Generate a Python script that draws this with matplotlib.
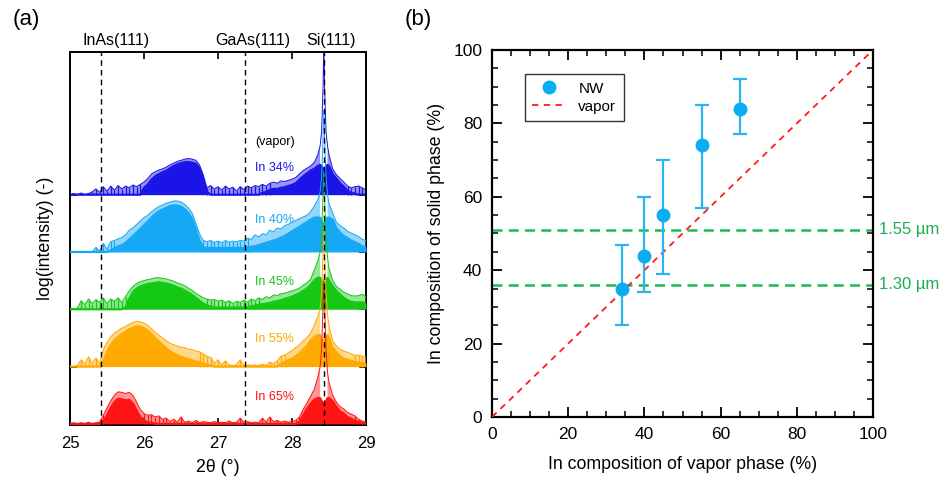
import numpy as np
import matplotlib
matplotlib.use("Agg")
import matplotlib.pyplot as plt
from matplotlib.lines import Line2D
import matplotlib.transforms as mtransforms

plt.rcParams['font.family'] = ['Liberation Sans', 'DejaVu Sans']

# ---------------- Panel (a) data: XRD spectra (log intensity, offset per sample) ----------
two_theta = np.concatenate([
    np.round(np.arange(25.00, 28.351, 0.05), 2),
    [28.38, 28.40, 28.42, 28.43, 28.44, 28.46, 28.48],
    np.round(np.arange(28.50, 29.001, 0.05), 2),
])

samples = ["In 34%", "In 40%", "In 45%", "In 55%", "In 65%"]
colors = ["#1a14e6", "#14a8f5", "#14c814", "#ffaa00", "#ff1414"]
offsets = [4, 3, 2, 1, 0]

# upper (spike) envelope and solid body level
hi_34 = [0, 0.02, 0, 0.03, 0, 0.02, 0.05, 0.1, 0.04, 0.14, 0.06, 0.15, 0.08, 0.16, 0.1, 0.15, 0.12, 0.17, 0.14, 0.18,
         0.22, 0.28, 0.36, 0.4, 0.43, 0.45, 0.48, 0.52, 0.55, 0.58, 0.6, 0.62, 0.63, 0.62, 0.6, 0.52, 0.35, 0.12, 0.16, 0.1,
         0.14, 0.08, 0.15, 0.1, 0.13, 0.06, 0.14, 0.09, 0.15, 0.12, 0.16, 0.14, 0.18, 0.15, 0.2, 0.22, 0.2, 0.24, 0.23, 0.25,
         0.27, 0.3, 0.36, 0.42, 0.46, 0.5, 0.56, 0.7,
         0.85, 1.1, 1.9, 2.7, 1.9, 1.1, 0.85,
         0.7, 0.45, 0.35, 0.28, 0.22, 0.15, 0.12, 0.14, 0.15, 0.12, 0.08]
lo_34 = [0] * 20 + \
        [0.12, 0.18, 0.26, 0.32, 0.36, 0.39, 0.42, 0.46, 0.5, 0.53, 0.55, 0.57, 0.57, 0.56, 0.54, 0.46, 0.28, 0.05, 0, 0,
         0, 0, 0, 0, 0, 0, 0, 0, 0, 0, 0, 0, 0.03, 0.05, 0.08, 0.1, 0.1, 0.12, 0.13, 0.15,
         0.17, 0.2, 0.26, 0.32, 0.37, 0.42, 0.45, 0.5,
         0.52, 0.5, 0.45, 0.45, 0.45, 0.5, 0.52,
         0.5, 0.36, 0.28, 0.2, 0.14, 0.07, 0.03, 0.02, 0, 0, 0]

hi_40 = [0, 0, 0, 0, 0, 0, 0, 0.08, 0.02, 0.15, 0.05, 0.18, 0.2, 0.23, 0.25, 0.3, 0.38, 0.42, 0.48, 0.54,
         0.6, 0.64, 0.7, 0.75, 0.79, 0.82, 0.85, 0.87, 0.89, 0.89, 0.87, 0.83, 0.77, 0.68, 0.5, 0.32, 0.2, 0.18, 0.2, 0.17,
         0.19, 0.16, 0.2, 0.17, 0.19, 0.18, 0.2, 0.19, 0.24, 0.22, 0.3, 0.26, 0.32, 0.3, 0.38, 0.35, 0.42, 0.4, 0.46, 0.48,
         0.52, 0.55, 0.58, 0.61, 0.64, 0.7, 0.8, 0.92,
         1.05, 1.3, 2.0, 2.47, 2.0, 1.3, 1.0,
         0.85, 0.68, 0.52, 0.46, 0.42, 0.36, 0.33, 0.3, 0.27, 0.22, 0.2]
lo_40 = [0, 0, 0, 0, 0, 0, 0, 0, 0, 0, 0, 0.03, 0.06, 0.1, 0.12, 0.16, 0.22, 0.28, 0.34, 0.4,
         0.47, 0.53, 0.6, 0.66, 0.71, 0.74, 0.77, 0.8, 0.81, 0.81, 0.79, 0.75, 0.68, 0.58, 0.4, 0.2, 0.08, 0.07, 0.07, 0.07,
         0.07, 0.07, 0.07, 0.07, 0.07, 0.07, 0.07, 0.07, 0.08, 0.09, 0.1, 0.12, 0.14, 0.16, 0.18, 0.2, 0.22, 0.25, 0.28, 0.32,
         0.36, 0.4, 0.44, 0.48, 0.52, 0.56, 0.6, 0.6,
         0.6, 0.55, 0.5, 0.5, 0.5, 0.55, 0.6,
         0.6, 0.56, 0.42, 0.34, 0.28, 0.24, 0.2, 0.17, 0.14, 0.1, 0.08]

hi_45 = [0, 0, 0.02, 0.15, 0.08, 0.18, 0.1, 0.17, 0.12, 0.2, 0.1, 0.18, 0.14, 0.2, 0.12, 0.22, 0.32, 0.4, 0.45, 0.48,
         0.5, 0.52, 0.53, 0.55, 0.55, 0.54, 0.53, 0.51, 0.49, 0.46, 0.44, 0.41, 0.37, 0.33, 0.28, 0.24, 0.2, 0.18, 0.16, 0.17,
         0.14, 0.16, 0.12, 0.15, 0.1, 0.14, 0.12, 0.16, 0.12, 0.18, 0.15, 0.2, 0.17, 0.22, 0.2, 0.25, 0.24, 0.27, 0.28, 0.3,
         0.32, 0.34, 0.37, 0.42, 0.46, 0.52, 0.68, 0.85,
         1.0, 1.3, 2.0, 2.42, 2.0, 1.25, 0.9,
         0.72, 0.5, 0.4, 0.35, 0.3, 0.27, 0.24, 0.23, 0.24, 0.26, 0.22]
lo_45 = [0, 0, 0, 0, 0, 0, 0, 0, 0, 0, 0, 0, 0, 0, 0, 0.03, 0.18, 0.3, 0.36, 0.4,
         0.42, 0.44, 0.45, 0.46, 0.47, 0.46, 0.45, 0.43, 0.41, 0.38, 0.36, 0.33, 0.29, 0.25, 0.2, 0.15, 0.1, 0.07, 0.05, 0.03,
         0.03, 0.03, 0.03, 0.03, 0.03, 0.03, 0.03, 0.03, 0.03, 0.05, 0.06, 0.08, 0.09, 0.1, 0.11, 0.13, 0.14, 0.16, 0.18, 0.2,
         0.22, 0.25, 0.28, 0.32, 0.36, 0.42, 0.5, 0.55,
         0.55, 0.5, 0.45, 0.45, 0.45, 0.5, 0.55,
         0.5, 0.4, 0.32, 0.26, 0.2, 0.16, 0.13, 0.12, 0.12, 0.12, 0.1]

hi_55 = [0, 0, 0.02, 0.12, 0.05, 0.17, 0.06, 0.15, 0.05, 0.3, 0.42, 0.52, 0.58, 0.63, 0.67, 0.7, 0.74, 0.77, 0.79, 0.78,
         0.76, 0.72, 0.66, 0.6, 0.55, 0.5, 0.45, 0.41, 0.38, 0.36, 0.34, 0.33, 0.3, 0.3, 0.27, 0.26, 0.22, 0.18, 0.16, 0.06,
         0.12, 0.03, 0.1, 0.03, 0.02, 0.03, 0.12, 0.02, 0.03, 0.02, 0.03, 0.02, 0.04, 0.02, 0.08, 0.05, 0.1, 0.18, 0.2, 0.24,
         0.28, 0.33, 0.38, 0.45, 0.5, 0.58, 0.72, 0.88,
         1.0, 1.3, 2.0, 2.45, 2.0, 1.3, 0.9,
         0.72, 0.45, 0.36, 0.3, 0.27, 0.25, 0.22, 0.2, 0.2, 0.18, 0.16]
lo_55 = [0, 0, 0, 0, 0, 0, 0, 0, 0, 0.1, 0.25, 0.38, 0.46, 0.52, 0.57, 0.61, 0.65, 0.68, 0.7, 0.7,
         0.67, 0.63, 0.57, 0.5, 0.44, 0.38, 0.32, 0.27, 0.23, 0.2, 0.17, 0.15, 0.13, 0.11, 0.09, 0.07, 0.05, 0.03, 0.02, 0,
         0, 0, 0, 0, 0, 0, 0, 0, 0, 0, 0, 0, 0, 0, 0, 0, 0, 0.05, 0.08, 0.11,
         0.14, 0.18, 0.23, 0.3, 0.36, 0.45, 0.52, 0.55,
         0.55, 0.5, 0.45, 0.45, 0.45, 0.5, 0.55,
         0.5, 0.33, 0.25, 0.18, 0.14, 0.12, 0.1, 0.08, 0.07, 0.06, 0.05]

hi_65 = [0, 0.02, 0, 0.02, 0, 0.03, 0, 0.02, 0.03, 0.15, 0.28, 0.4, 0.5, 0.56, 0.55, 0.53, 0.55, 0.5, 0.38, 0.25,
         0.18, 0.15, 0.16, 0.12, 0.14, 0.08, 0.1, 0.04, 0.08, 0.03, 0.12, 0.03, 0.05, 0.02, 0.06, 0.02, 0.04, 0.03, 0.02, 0.04,
         0.02, 0.03, 0.02, 0.05, 0.02, 0.03, 0.1, 0.03, 0.04, 0.02, 0.03, 0.02, 0.1, 0.03, 0.12, 0.04, 0.06, 0.03, 0.05, 0.03,
         0.04, 0.06, 0.12, 0.25, 0.36, 0.48, 0.6, 0.82,
         1.0, 1.3, 2.1, 2.52, 2.1, 1.3, 0.9,
         0.72, 0.5, 0.38, 0.3, 0.26, 0.2, 0.17, 0.14, 0.08, 0.05, 0.03]
lo_65 = [0, 0, 0, 0, 0, 0, 0, 0, 0, 0.05, 0.15, 0.28, 0.38, 0.44, 0.43, 0.41, 0.42, 0.36, 0.24, 0.12,
         0.06, 0.03, 0.02, 0, 0, 0, 0, 0, 0, 0, 0, 0, 0, 0, 0, 0, 0, 0, 0, 0,
         0, 0, 0, 0, 0, 0, 0, 0, 0, 0, 0, 0, 0, 0, 0, 0, 0, 0, 0, 0,
         0, 0, 0.04, 0.15, 0.26, 0.35, 0.42, 0.45,
         0.45, 0.4, 0.35, 0.35, 0.35, 0.4, 0.45,
         0.45, 0.4, 0.3, 0.22, 0.18, 0.12, 0.09, 0.06, 0.03, 0.02, 0]

spectra_hi = [hi_34, hi_40, hi_45, hi_55, hi_65]
spectra_lo = [lo_34, lo_40, lo_45, lo_55, lo_65]

ref_names = ["InAs(111)", "GaAs(111)", "Si(111)"]
ref_pos = [25.42, 27.36, 28.43]
ref_label_x = [25.62, 27.47, 28.53]

# ---------------- Panel (b) data ----------------
vapor_in = [34, 40, 45, 55, 65]
solid_in = [35, 44, 55, 74, 84]
solid_low = [25, 34, 39, 57, 77]
solid_high = [47, 60, 70, 85, 92]
wl_levels = [51, 36]
wl_labels = ["1.55 µm", "1.30 µm"]

# ---------------- Figure ----------------
fig = plt.figure(figsize=(9.41, 4.83), dpi=100)
W, H = 941, 483
axa = fig.add_axes([70 / W, 1 - 425 / H, 296 / W, 373 / H])
axb = fig.add_axes([492 / W, 1 - 417 / H, 381 / W, 367 / H])

X = two_theta
noisy = (X <= 28.385) | (X >= 28.475)   # noise band only off the sharp Si peak
for k in range(len(samples)):
    c = colors[k]
    off = offsets[k]
    hi = np.array(spectra_hi[k])
    lo = np.array(spectra_lo[k])
    z = 2 + k
    axa.fill_between(X, off, off + lo, color=c, lw=0, zorder=z)
    axa.fill_between(X, off + lo, off + hi, where=noisy, color=c, lw=0, alpha=0.45, zorder=z)
    m = lo <= 0.08
    axa.vlines(X[m], off, off + hi[m], color=c, lw=0.9, zorder=z)
    axa.plot(X, off + hi, color=c, lw=0.7, zorder=z)
    axa.plot(X, off + lo, color=c, lw=1.6, zorder=z)

for p in ref_pos:
    axa.axvline(p, color='black', lw=1.0, ls=(0, (4, 3)), zorder=10)

trans = mtransforms.blended_transform_factory(axa.transData, axa.transAxes)
for name, lx in zip(ref_names, ref_label_x):
    axa.text(lx, 1.012, name, transform=trans, ha='center', va='bottom', fontsize=11.5)

label_pos_y = [4.47, 3.55, 2.47, 1.48, 0.47]
for k in range(len(samples)):
    axa.text(27.5, label_pos_y[k], samples[k], color=colors[k], fontsize=9, ha='left', va='center')
axa.text(27.5, 4.92, "(vapor)", color='black', fontsize=9, ha='left', va='center')

axa.set_xlim(25, 29)
axa.set_ylim(-0.02, 6.49)
axa.set_xticks([25, 26, 27, 28, 29])
axa.set_yticks([1, 2, 3, 4])
axa.set_yticklabels([])
axa.tick_params(axis='both', direction='in', top=True, right=True, length=5, width=1.2, labelsize=12)
axa.tick_params(axis='x', pad=8)
for s in axa.spines.values():
    s.set_linewidth(1.4)
axa.set_xlabel("2θ (°)", fontsize=12.8, labelpad=6)
axa.set_ylabel("log(intensity) (-)", fontsize=12.8, labelpad=8)

# Panel (b)
axb.plot([0, 100], [0, 100], color='#ff1a1a', lw=1.3, ls=(0, (3.5, 3)), zorder=3)
for lvl, lab in zip(wl_levels, wl_labels):
    axb.axhline(lvl, color='#1db954', lw=1.8, ls=(0, (4, 2.5)), zorder=2)
    axb.text(101.5, lvl, lab, color='#1aaf50', fontsize=12, ha='left', va='center')

yerr = [np.array(solid_in) - np.array(solid_low), np.array(solid_high) - np.array(solid_in)]
axb.errorbar(vapor_in, solid_in, yerr=yerr, fmt='none', ecolor='#2ab4f0', elinewidth=1.6,
             capsize=5, capthick=1.6, zorder=4)
axb.plot(vapor_in, solid_in, 'o', color='#0aaef0', ms=9, zorder=5)

axb.set_xlim(0, 100)
axb.set_ylim(0, 100)
axb.set_xticks(np.arange(0, 101, 20))
axb.set_yticks(np.arange(0, 101, 20))
axb.set_xticks(np.arange(0, 101, 5), minor=True)
axb.set_yticks(np.arange(0, 101, 5), minor=True)
axb.tick_params(axis='both', which='major', direction='in', top=True, right=True, length=7, width=1.3,
                labelsize=12.5, pad=7)
axb.tick_params(axis='both', which='minor', direction='in', top=True, right=True, length=4, width=1.1)
for s in axb.spines.values():
    s.set_linewidth(1.6)
axb.set_xlabel("In composition of vapor phase (%)", fontsize=12.8, labelpad=10)
axb.set_ylabel("In composition of solid phase (%)", fontsize=12.8, labelpad=6)

handles = [Line2D([], [], marker='o', ls='none', color='#0aaef0', ms=9),
           Line2D([], [], color='#ff1a1a', lw=1.3, ls=(0, (3.5, 3)))]
leg = axb.legend(handles, ["NW", "vapor"], loc='upper left', bbox_to_anchor=(0.066, 0.955),
                 fontsize=11, frameon=True, fancybox=False, edgecolor='black', borderpad=0.5,
                 handlelength=2.2, labelspacing=0.25)
leg.get_frame().set_linewidth(1.0)

fig.text(26 / W, 1 - 20 / H, "(a)", fontsize=16, ha='center', va='center')
fig.text(418 / W, 1 - 20 / H, "(b)", fontsize=16, ha='center', va='center')

fig.savefig("out.png", dpi=100)
